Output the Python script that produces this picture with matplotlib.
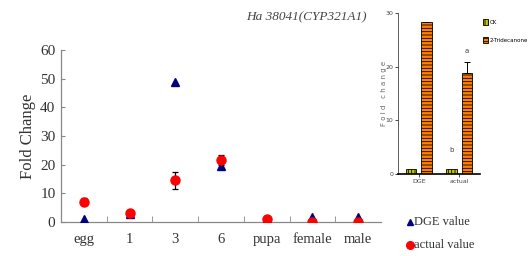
import matplotlib
matplotlib.use("Agg")
import matplotlib.pyplot as plt
import numpy as np

# ---- main panel data ----
stages = ["egg", "1", "3", "6", "pupa", "female", "male"]
dge_values = [1.0, 2.8, 48.8, 19.5, 1.0, 1.8, 1.8]
actual_values = [7.1, 3.2, 14.5, 21.6, 1.0, 0.1, 0.1]
actual_err = [1.3, 0.8, 3.0, 1.6, 0.3, 0.1, 0.1]
y_ticks = [0, 10, 20, 30, 40, 50, 60]
title_text = "Ha 38041(CYP321A1)"

# ---- inset data ----
inset_groups = ["DGE", "actual"]
ck_values = [1.0, 1.0]
trt_values = [28.3, 18.9]
trt_err = [0.0, 1.9]
inset_ticks = [0, 10, 20, 30]
inset_series = ["CK", "2-Tridecanone"]
sig_letters_ck = ["", "b"]
sig_letters_trt = ["", "a"]

W, H = 532, 256
fig = plt.figure(figsize=(W / 100, H / 100), dpi=100)
serif = "Liberation Serif"
txt_col = "#333333"

# main axes
ax = fig.add_axes([61 / W, (H - 222) / H, 320 / W, 172 / H])
x = np.arange(len(stages))
ax.plot(x, dge_values, linestyle="none", marker="^", color="#000080", ms=6, zorder=3)
ax.errorbar(x, actual_values, yerr=actual_err, linestyle="none", marker="o",
            color="#ff0000", ecolor="black", elinewidth=0.9, capsize=2.2,
            capthick=0.9, ms=6.5, zorder=4)
ax.set_xlim(-0.5, len(stages) - 0.5)
ax.set_ylim(0, 60)
ax.set_yticks(y_ticks)
ax.set_yticklabels([str(v) for v in y_ticks], fontfamily=serif, fontsize=11, color=txt_col)
ax.set_xticks(x)
ax.set_xticklabels(stages, fontfamily=serif, fontsize=10.5, color=txt_col)
ax.tick_params(axis="x", length=0, pad=8)
ax.set_xticks(np.arange(len(stages) - 1) + 0.5, minor=True)
ax.tick_params(axis="x", which="minor", direction="in", length=4, color="#888888")
ax.tick_params(axis="y", direction="in", length=3, color="#888888", pad=4)
for s in ["top", "right"]:
    ax.spines[s].set_visible(False)
for s in ["left", "bottom"]:
    ax.spines[s].set_color("#888888")
    ax.spines[s].set_linewidth(0.9)
ax.set_ylabel("Fold Change", fontfamily=serif, fontsize=12, color=txt_col)
ax.yaxis.set_label_coords(-0.078, 0.5)
fig.text(306 / W, 1 - 17 / H, title_text, fontfamily=serif, style="italic",
         fontsize=9.5, ha="center", va="center", color="#444444")

# main legend (manual)
fig.lines.append(matplotlib.lines.Line2D([410 / W], [1 - 222 / H], marker="^", color="#000080",
                                         ms=5, linestyle="none", transform=fig.transFigure))
fig.lines.append(matplotlib.lines.Line2D([410 / W], [1 - 245 / H], marker="o", color="#ff0000",
                                         ms=5.5, linestyle="none", transform=fig.transFigure))
fig.text(414 / W, 1 - 222 / H, "DGE value", fontfamily=serif, fontsize=9, va="center", color=txt_col)
fig.text(414 / W, 1 - 245 / H, "actual value", fontfamily=serif, fontsize=9, va="center", color=txt_col)

# inset axes
plt.rcParams["hatch.linewidth"] = 0.6
ia = fig.add_axes([398 / W, (H - 174) / H, 82 / W, 161 / H])
gx = np.arange(len(inset_groups))
bw = 0.26
ia.bar(gx - 0.2, ck_values, bw, color="#c8c800", edgecolor="black", hatch="|||||",
       linewidth=0.6, label=inset_series[0])
ia.bar(gx + 0.185, trt_values, bw, color="#ff8000", edgecolor="black", hatch="-----",
       linewidth=0.6, label=inset_series[1])
ia.errorbar(gx + 0.185, trt_values, yerr=[np.zeros(len(trt_err)), trt_err], linestyle="none",
            ecolor="black", elinewidth=0.7, capsize=2, capthick=0.7)
for i in range(len(gx)):
    if sig_letters_ck[i]:
        ia.text(gx[i] - 0.2, ck_values[i] + 3, sig_letters_ck[i], ha="center", va="bottom",
                fontsize=5, fontfamily="DejaVu Sans", color="#444444")
    if sig_letters_trt[i]:
        ia.text(gx[i] + 0.185, trt_values[i] + trt_err[i] + 1.5, sig_letters_trt[i],
                ha="center", va="bottom", fontsize=5, fontfamily="DejaVu Sans", color="#444444")
ia.set_xlim(-0.52, 1.51)
ia.set_ylim(0, 30)
ia.set_yticks(inset_ticks)
ia.set_yticklabels([str(v) for v in inset_ticks], fontsize=4.5, color="#444444")
ia.set_xticks(gx)
ia.set_xticklabels(inset_groups, fontsize=4.5, color="#444444")
ia.tick_params(axis="both", length=2, width=0.5, pad=1.5)
ia.patch.set_alpha(0)
for s in ["top", "right"]:
    ia.spines[s].set_visible(False)
ia.spines["left"].set_linewidth(0.6)
ia.spines["left"].set_color("#444444")
ia.spines["bottom"].set_linewidth(1.2)
ia.set_ylabel("F o l d   c h a n g e", fontsize=5, color="#666666")
ia.yaxis.set_label_coords(-0.14, 0.5)
ia.legend(loc="upper left", bbox_to_anchor=(483 / W, 1 - 19 / H),
          bbox_transform=fig.transFigure, frameon=False, fontsize=4,
          handlelength=0.9, handleheight=1.4, labelspacing=2.0, handletextpad=0.3,
          borderpad=0, borderaxespad=0)

fig.savefig("out.png", dpi=100)
